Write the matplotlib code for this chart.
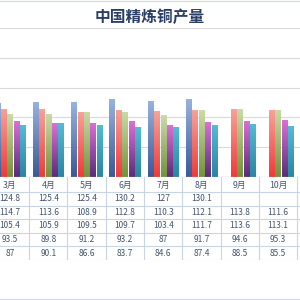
import matplotlib
matplotlib.use("Agg")
import matplotlib.pyplot as plt
import numpy as np
from matplotlib.colors import LinearSegmentedColormap

plt.rcParams["font.family"] = ["Noto Sans CJK SC", "DejaVu Sans"]

months = ["3月", "4月", "5月", "6月", "7月", "8月", "9月", "10月"]
s_blue = [124.8, 125.4, 125.4, 130.2, 127, 130.1, np.nan, np.nan]
s_red = [114.7, 113.6, 108.9, 112.8, 110.3, 112.1, 113.8, 111.6]
s_green = [105.4, 105.9, 109.5, 109.7, 103.4, 111.7, 113.6, 113.1]
s_purple = [93.5, 89.8, 91.2, 93.2, 87, 91.7, 94.6, 95.3]
s_teal = [87, 90.1, 86.6, 83.7, 84.6, 87.4, 88.5, 85.5]
series = [s_blue, s_red, s_green, s_purple, s_teal]

# gradient (top, bottom) per series
grads = [("#97b2de", "#3a5a98"),
         ("#f7a298", "#f03a3a"),
         ("#cbdba8", "#74923a"),
         ("#dc6fd6", "#5a2c78"),
         ("#55bbd4", "#2a85a3")]

W, H = 300, 300
fig = plt.figure(figsize=(3, 3), dpi=100)
fig.patch.set_facecolor("white")

# category i is centred at pixel 10 + 38.3 * i
cw = 38.3
x0 = 10.0
xlim = ((0 - x0) / cw, (W - x0) / cw)

base_px, top_px = 177, 28
ax = fig.add_axes([0, (H - base_px) / H, 1, (base_px - top_px) / H])
ax.set_xlim(*xlim)
ax.set_ylim(0, 250)
for s in ax.spines.values():
    s.set_visible(False)
ax.set_xticks([])
ax.set_yticks([])
for g in [50, 100, 150, 200, 250]:
    ax.axhline(g, color="#d9d9d9", lw=0.8, zorder=0)
ax.axhline(0, color="#bfbfbf", lw=0.9, zorder=3)

x = np.arange(len(months))
step = 6.4 / cw
bw = 5.3 / cw
for k, (vals, (ctop, cbot)) in enumerate(zip(series, grads)):
    cmap = LinearSegmentedColormap.from_list("g%d" % k, [cbot, ctop])
    offs = (k - 2) * step
    bars = ax.bar(x + offs, vals, width=bw, color="none", edgecolor="none", zorder=2)
    for b, v in zip(bars, vals):
        if np.isnan(v):
            continue
        grad = np.linspace(0, 1, 64).reshape(-1, 1)
        im = ax.imshow(grad, cmap=cmap, origin="lower", aspect="auto",
                       extent=[b.get_x(), b.get_x() + b.get_width(), 0, v],
                       zorder=2)
        im.set_clip_path(b)
ax.set_xlim(*xlim)
ax.set_ylim(0, 250)

# data table below the axis
tab_bot = 260
tx = fig.add_axes([0, (H - tab_bot) / H, 1, (tab_bot - base_px) / H])
tx.set_xlim(*xlim)
tx.set_ylim(tab_bot, base_px)
tx.axis("off")
line_c = "#c9d5e2"
row_lines = [192, 205.6, 219.2, 232.8, 246.4, 260]
for yl in row_lines:
    tx.axhline(yl, color=line_c, lw=0.8)
for i in range(len(months) + 1):
    tx.plot([i - 0.5, i - 0.5], [base_px, tab_bot], color=line_c, lw=0.8)

txt_c = "#44546a"
for i, m in enumerate(months):
    tx.text(i, 185, m, ha="center", va="center", fontsize=6.3, color=txt_c)
for r, vals in enumerate(series):
    yc = (row_lines[r] + row_lines[r + 1]) / 2
    for i, v in enumerate(vals):
        if np.isnan(v):
            continue
        tx.text(i, yc, "{:g}".format(v), ha="center", va="center",
                fontsize=6, color=txt_c)

# title and chart border
fig.text(0.5, (H - 17) / H, "中国精炼铜产量", ha="center", va="center",
         fontsize=11.3, fontweight="bold", color="#2a3f66")
fig.add_artist(plt.Line2D([0, 1], [(H - 1) / H] * 2, color="#d5dde8", lw=1))
fig.add_artist(plt.Line2D([0, 1], [1.5 / H] * 2, color="#d5dde8", lw=1))

fig.savefig("out.png", dpi=100)
